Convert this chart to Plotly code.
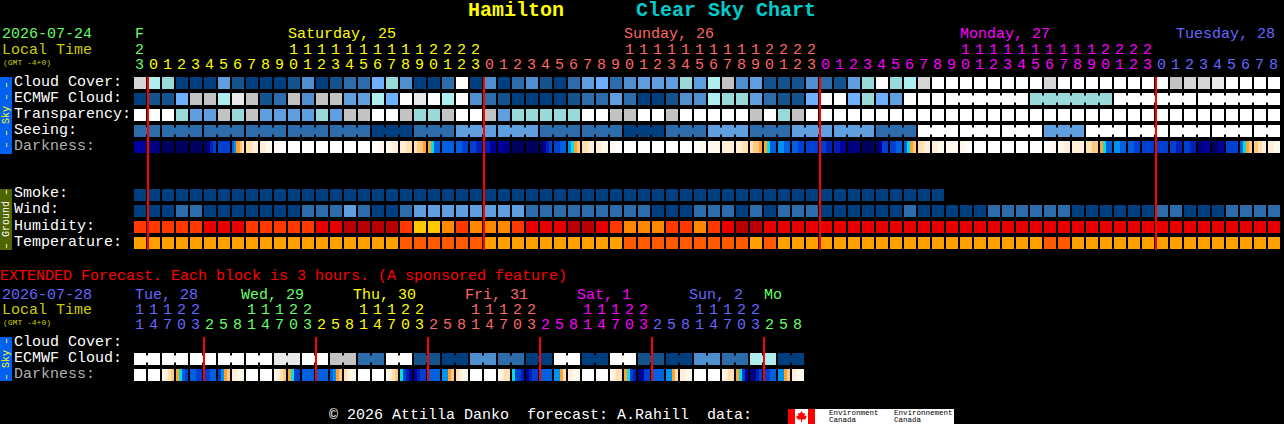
import plotly.graph_objects as go

W, H = 1284, 424
FONT = "Liberation Mono"

# ---------- palette levels ----------
CLOUD_COLORS = ["#003F7F", "#13548F", "#2C6CAB", "#4F8FCF", "#5F9FE0", "#6FAFFF",
                "#99D9D9", "#AEEEEE", "#C3C3C3", "#D6D6D6", "#E9E9E9", "#FFFFFF"]
HUMIDITY_COLORS = ["#FFC800", "#FF8800", "#FF3800", "#E80000", "#B80000"]
TEMP_COLORS = ["#FFA000", "#FF5A00"]
DARK_COLORS = ["#FFFFFF", "#FFF8EC", "#FFEFD8", "#FFE0B0", "#FFC880", "#FFA030", "#00E0E0",
               "#0090F0", "#0060E0", "#0040D0", "#0020B8", "#0000A0", "#000080", "#000060"]

# ---------- main forecast, one value per hour ----------
cloud_cover = [9,7,6,0,0,0,4,1,0,0,0,1,3,0,1,2,2,5,6,3,0,
               0,2,11,0,3,0,2,3,1,0,2,4,5,2,3,4,4,4,6,4,7,8,3,4,1,1,1,3,2,1,4,
               6,11,6,7,9,11,11,11,11,11,11,11,11,9,11,11,11,11,11,11,11,11,8,9,9,10,11,11,11,11]
ecmwf_cloud = [0,1,1,5,8,8,7,10,8,1,2,8,3,8,8,4,4,7,5,11,10,
               11,7,11,3,2,1,0,0,0,0,1,2,2,4,2,0,0,1,3,3,7,6,6,4,2,1,1,5,11,11,5,
               6,5,4,11,11,11,11,11,11,11,11,11,6,6,6,6,6,6,11,11,11,11,11,11,11,11,11,11,11,11]
transparency = [11,11,11,6,4,4,8,6,8,4,4,4,4,6,4,8,8,11,11,8,6,
                6,8,11,11,8,4,6,6,6,6,6,11,11,8,8,11,11,8,11,11,11,11,11,8,11,6,8,11,11,11,11,
                11,11,11,11,11,11,11,11,11,11,11,11,11,11,11,11,11,11,11,11,11,11,11,11,11,11,11,11,11,11]
seeing = [2,2,2,2,2,2,2,2,2,2,2,2,2,2,2,2,2,0,0,0,2,2,2,4,4,4,4,4,4,2,2,2,2,2,2,0,0,0,2,2,2,
          4,4,4,2,2,2,4,4,4,4,4,4,2,2,2,11,11,11,11,11,11,11,11,11,4,4,4,11,11,11,11,11,11,11,11,11,11,11,11,11,11]
darkness = [(11,),(12,),(13,),(13,),(13,),(13,12,10,9),(9,),(8,7,5,5,4,3),(3,2),(2,1),(1,0),
            (0,),(0,),(0,),(0,),(0,),(0,),(0,1),(1,2),(2,3),(3,4,4,5),
            (5,6,8,8),(8,),(8,9),(9,10),(10,11),(11,12),(13,),(13,),(13,11,10,9),(9,8),(7,6,5,4),
            (3,2),(2,1),(1,0),(0,),(0,),(0,),(0,),(0,),(0,1),(1,),(2,),(2,3),(3,4,4,5),
            (5,6,8,8),(7,8),(8,9),(9,),(9,10),(10,11),(12,),(13,),(13,11,9,9),(9,8),(8,6,5,4),
            (3,2),(2,1),(1,),(1,0),(0,),(0,),(0,),(0,),(0,),(0,1),(1,2),(2,),(3,4),
            (5,6,8,8),(7,8),(8,9),(9,),(9,),(9,10),(9,10),(12,11),(13,11),(9,),(8,6,5,4),(4,3,2),(2,1)]
smoke = [0] * 58
wind = [0,0,0,2,2,0,0,0,0,0,0,0,2,2,2,4,2,0,0,2,4,
        4,4,4,4,4,4,4,2,2,2,2,2,2,2,2,2,0,0,0,2,2,2,0,2,0,2,2,2,0,0,0,
        0,0,0,2,0,0,0,0,0,2,2,2,2,2,2,0,0,0,0,0,0,2,2,0,0,0,2,2,2,2]
humidity = [2,2,2,2,2,3,3,3,2,2,2,2,2,3,3,4,4,4,4,2,0,
            0,1,2,1,1,1,2,3,3,3,4,4,3,2,1,1,1,2,2,1,2,3,4,4,3,3,3,3,3,3,3,
            3,3,3,3,3,3,3,3,3,3,3,3,3,3,3,3,3,3,3,3,3,3,3,3,3,3,3,3,3,3]
temperature = [0,0,0,0,0,0,0,0,0,0,0,0,0,0,0,0,0,0,0,1,1,
               1,1,1,1,0,0,0,0,0,0,0,0,0,0,1,1,1,1,1,1,1,1,1,0,1,0,0,0,0,0,0,
               0,0,0,0,0,0,0,0,0,0,0,0,0,1,1,0,0,0,0,0,0,0,0,0,0,0,0,0,0,0]

# ---------- extended forecast, one value per 3-hour block ----------
ext_ecmwf = [11,11,11,11,11,11,11,11,11,11,10,10,11,11,8,8,2,2,11,11,1,1,0,0,
             3,3,2,2,0,0,11,11,0,0,11,11,1,1,0,0,3,3,2,2,7,7,0,0]
ext_darkness = [(0,),(0,),(1,2,3,4),(5,6,8,9),(8,9),(9,8),(9,7,5,4),(2,1),(0,),(0,),(1,2,3,4),
                (5,6,9,9),(8,),(8,),(8,7,5,4),(3,2,1,1),(0,),(0,),(1,2,3,4),(6,9,10,11),(11,10,9,9),(8,),(7,7,5,4),(3,2,1,1),
                (0,),(0,),(1,2,3,3),(6,9,9,10),(11,10,9,9),(8,),(7,7,5,3),(2,1,1),(0,),(0,),(1,2,3,3),
                (5,6,9,10),(12,11,9,9),(8,),(7,7,5,3),(2,1),(0,),(0,),(1,2,3,3),(5,6,9,11),(12,12,10,9),(9,8),(7,7,5,4),(2,1,1)]

# ---------- axis labels ----------
main_hours = [23] + list(range(24)) * 3 + list(range(9))
main_hour_owner = ["F"] + ["Saturday"] * 24 + ["Sunday"] * 24 + ["Monday"] * 24 + ["Tuesday"] * 9
ext_hours = [11,14,17,20,23] + [2,5,8,11,14,17,20,23] * 5 + [2,5,8]
ext_owner = ["Tue"]*5 + ["Wed"]*8 + ["Thu"]*8 + ["Fri"]*8 + ["Sat"]*8 + ["Sun"]*8 + ["Mo"]*3
OWNER_COLORS = {"F": "#66FF66", "Saturday": "#FFFF00", "Sunday": "#FF6666", "Monday": "#FF00FF",
                "Tuesday": "#6666FF", "Tue": "#6666FF", "Wed": "#66FF66", "Thu": "#FFFF00",
                "Fri": "#FF6666", "Sat": "#FF00FF", "Sun": "#6666FF", "Mo": "#66FF66"}
main_days = [(134, "F", "F"), (287, "Saturday, 25", "Saturday"), (623, "Sunday, 26", "Sunday"),
             (959, "Monday, 27", "Monday"), (1175, "Tuesday, 28", "Tuesday")]
ext_days = [(134, "Tue, 28", "Tue"), (240, "Wed, 29", "Wed"), (352, "Thu, 30", "Thu"),
            (464, "Fri, 31", "Fri"), (576, "Sat, 1", "Sat"), (688, "Sun, 2", "Sun"), (763, "Mo", "Mo")]
sky_labels = ["Cloud Cover:", "ECMWF Cloud:", "Transparency:", "Seeing:", "Darkness:"]
ground_labels = ["Smoke:", "Wind:", "Humidity:", "Temperature:"]
ext_labels = ["Cloud Cover:", "ECMWF Cloud:", "Darkness:"]
main_midnights = [1, 25, 49, 73]
ext_midnights = [5, 13, 21, 29, 37, 45]

# ---------- helpers ----------
def discrete(colors):
    n = len(colors)
    scale = []
    for k, c in enumerate(colors):
        scale += [[k / n, c], [(k + 1) / n, c]]
    return scale

def pad(values, n):
    return list(values) + [None] * (n - len(values))

def heat(rows, colors, yaxis, y):
    return go.Heatmap(z=rows, y=y, x0=0, dx=1, xaxis="x", yaxis=yaxis, xgap=2, ygap=4,
                      colorscale=discrete(colors), zmin=-0.5, zmax=len(colors) - 0.5,
                      showscale=False, hoverinfo="skip")

def dark_heat(cells, yaxis, row):
    fine = []
    for cell in cells:
        fine += [cell[k * len(cell) // 12] for k in range(12)] + [None, None]
    return go.Heatmap(z=[fine], y=[row], x0=-5.5 / 14, dx=1 / 14, xaxis="x", yaxis=yaxis, ygap=4,
                      colorscale=discrete(DARK_COLORS), zmin=-0.5, zmax=len(DARK_COLORS) - 0.5,
                      showscale=False, hoverinfo="skip")

def bridges(values, starts, yaxis, row):
    """thin joins between the blocks of one forecast period"""
    starts = set(starts)
    traces = {}
    for i in range(len(values) - 1):
        if i + 1 not in starts and values[i] == values[i + 1]:
            xs, ys = traces.setdefault(values[i], ([], []))
            xs += [i + 0.36, i + 0.64, None]
            ys += [row, row, None]
    return [go.Scatter(x=xs, y=ys, xaxis="x", yaxis=yaxis, mode="lines", hoverinfo="skip",
                       line=dict(color=CLOUD_COLORS[lv], width=7), showlegend=False)
            for lv, (xs, ys) in traces.items()]

annotations = []
def text(px, py, s, color, size=15, anchor="left", angle=0, bold=False, family=FONT):
    annotations.append(dict(x=px / W, y=1 - py / H, xref="paper", yref="paper", text=f"<b>{s}</b>" if bold else s,
                            showarrow=False, xanchor=anchor, yanchor="middle", textangle=angle,
                            borderpad=0, font=dict(family=family, size=size, color=color)))
def digit(col, py, s, color):
    annotations.append(dict(x=col - 0.5 / 14, y=1 - py / H, xref="x", yref="paper", text=s, showarrow=False,
                            xanchor="center", yanchor="middle", borderpad=0,
                            font=dict(family=FONT, size=15, color=color)))

shapes = []
def box(x0, y0, x1, y1, color):
    shapes.append(dict(type="rect", xref="paper", yref="paper", x0=x0 / W, x1=x1 / W,
                       y0=1 - y0 / H, y1=1 - y1 / H, fillcolor=color, line_width=0, layer="above"))
def red_line(col, y0, y1):
    shapes.append(dict(type="line", xref="x", yref="paper", x0=col - 6 / 14, x1=col - 6 / 14,
                       y0=1 - y0 / H, y1=1 - y1 / H, line=dict(color="#FF0000", width=2), layer="above"))

# ---------- traces ----------
fig = go.Figure()
n = len(main_hours)
fig.add_trace(heat([cloud_cover, ecmwf_cloud, transparency, seeing], CLOUD_COLORS, "y", [0, 1, 2, 3]))
fig.add_trace(dark_heat(darkness, "y", 4))
ecmwf_groups = list(range(59)) + [64, 70, 76]
for tr in bridges(ecmwf_cloud, ecmwf_groups, "y", 1):
    fig.add_trace(tr)
for tr in bridges(seeing, range(2, n, 3), "y", 3):
    fig.add_trace(tr)
fig.add_trace(heat([pad(smoke, n), wind], CLOUD_COLORS, "y2", [0, 1]))
fig.add_trace(heat([humidity], HUMIDITY_COLORS, "y2", [2]))
fig.add_trace(heat([temperature], TEMP_COLORS, "y2", [3]))
fig.add_trace(heat([ext_ecmwf], CLOUD_COLORS, "y3", [1]))
fig.add_trace(dark_heat(ext_darkness, "y3", 2))
for tr in bridges(ext_ecmwf, range(0, 48, 2), "y3", 1):
    fig.add_trace(tr)

# ---------- texts ----------
text(467, 11, "Hamilton", "#FFFF00", 20, bold=True)
text(635, 11, "Clear Sky Chart", "#00CCCC", 20, bold=True)
text(1, 35, "2026-07-24", "#66FF66")
text(1, 50, "Local Time", "#CCCC00")
text(2, 62, "(GMT -4+0)", "#CCCC00", 8)
for px, s, owner in main_days:
    text(px, 35, s, OWNER_COLORS[owner])
for i, (h, owner) in enumerate(zip(main_hours, main_hour_owner)):
    c = OWNER_COLORS[owner]
    digit(i, 65, str(h % 10), c)
    if h >= 10:
        digit(i, 50, str(h // 10), c)
for k, s in enumerate(sky_labels):
    text(13, 82 + 16 * k, s, "#B0B0B0" if s == "Darkness:" else "#FFFFFF")
for k, s in enumerate(ground_labels):
    text(13, 194 + 16 * k, s, "#FFFFFF")
text(-1, 276, "EXTENDED Forecast. Each block is 3 hours. (A sponsored feature)", "#FF0000")
text(1, 295, "2026-07-28", "#6666FF")
text(1, 310, "Local Time", "#CCCC00")
text(2, 322, "(GMT -4+0)", "#CCCC00", 8)
for px, s, owner in ext_days:
    text(px, 295, s, OWNER_COLORS[owner])
for i, (h, owner) in enumerate(zip(ext_hours, ext_owner)):
    c = OWNER_COLORS[owner]
    digit(i, 325, str(h % 10), c)
    if h >= 10:
        digit(i, 310, str(h // 10), c)
for k, s in enumerate(ext_labels):
    text(13, 342 + 16 * k, s, "#B0B0B0" if s == "Darkness:" else "#FFFFFF")
text(328, 415, "© 2026 Attilla Danko  forecast: A.Rahill  data:", "#FFFFFF")

# ---------- side bars, midnight lines, logo ----------
box(0, 77, 12, 154, "#0060F0")
box(0, 189, 12, 250, "#4F6600")
box(0, 337, 12, 381, "#0060F0")
text(6, 115, "– – Sky – –", "#FFFF00", 10, anchor="center", angle=-90)
text(6, 219, "– Ground –", "#FFFFFF", 10, anchor="center", angle=-90)
text(6, 359, "– Sky –", "#FFFF00", 10, anchor="center", angle=-90)
for m in main_midnights:
    red_line(m, 77, 250)
for m in ext_midnights:
    red_line(m, 337, 381)

box(788, 409, 954, 424, "#FFFFFF")
box(788, 409, 795, 424, "#FF0000")
box(808, 409, 815, 424, "#FF0000")
leaf = [(801.5, 411), (803, 413.5), (805, 413), (804.5, 416), (806.5, 415.5), (806.5, 417.5), (805, 419.5),
        (802, 419.5), (802, 422), (801, 422), (801, 419.5), (798, 419.5), (796.5, 417.5), (796.5, 415.5),
        (798.5, 416), (798, 413), (800, 413.5)]
path = "M " + " L ".join(f"{x / W:.5f},{1 - y / H:.5f}" for x, y in leaf) + " Z"
shapes.append(dict(type="path", xref="paper", yref="paper", path=path, fillcolor="#FF0000", line_width=0, layer="above"))
text(828, 413, "Environment", "#000000", 7.5)
text(828, 420, "Canada", "#000000", 7.5)
text(893, 413, "Environnement", "#000000", 7.5)
text(893, 420, "Canada", "#000000", 7.5)

# ---------- layout ----------
def dom(top, bottom):
    return [1 - bottom / H, 1 - top / H]

hidden = dict(visible=False, showgrid=False, zeroline=False, fixedrange=True)
fig.update_layout(
    width=W, height=H, margin=dict(l=0, r=0, t=0, b=0, pad=0), autosize=False,
    paper_bgcolor="#000000", plot_bgcolor="#000000", showlegend=False,
    xaxis=dict(range=[-10, (W - 140) / 14], domain=[0, 1], **hidden),
    yaxis=dict(range=[4.5, -0.5], domain=dom(75, 155), **hidden),
    yaxis2=dict(range=[3.5, -0.5], domain=dom(187, 251), **hidden),
    yaxis3=dict(range=[2.5, -0.5], domain=dom(335, 383), **hidden),
    annotations=annotations, shapes=shapes,
)
fig.write_html("out.html", config=dict(displayModeBar=False, staticPlot=True),
               post_script="document.body.style.margin='0';document.body.style.background='#000';"
                           "document.documentElement.style.overflow='hidden';")
